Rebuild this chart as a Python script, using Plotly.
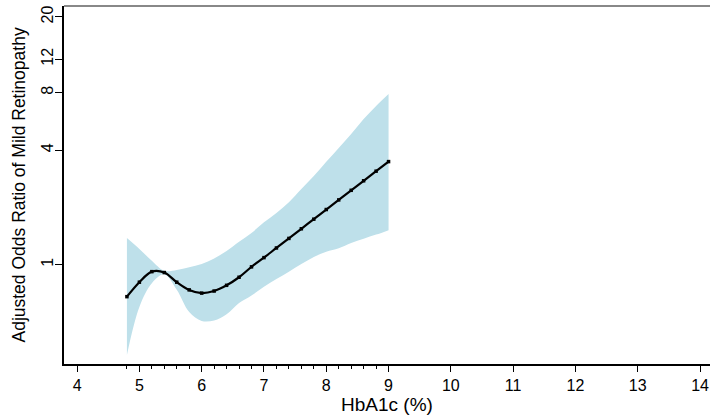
"""
HbA1c vs adjusted odds ratio of mild retinopathy (restricted cubic spline plot).
"""
import plotly.graph_objects as go

FONT = "Liberation Sans, Arial, sans-serif"
BAND_COLOR = "rgb(190,224,234)"

# HbA1c knots (%)
hba1c = [4.8, 5.0, 5.2, 5.4, 5.6, 5.8, 6.0, 6.2, 6.4, 6.6, 6.8,
         7.0, 7.2, 7.4, 7.6, 7.8, 8.0, 8.2, 8.4, 8.6, 8.8, 9.0]

# adjusted odds ratio + 95% CI
odds_ratio = [0.68, 0.81, 0.92, 0.91, 0.81, 0.738, 0.71, 0.728, 0.78, 0.86, 0.975,
              1.09, 1.225, 1.375, 1.545, 1.735, 1.95, 2.19, 2.46, 2.76, 3.10, 3.48]
ci_upper = [1.38, 1.21, 1.05, 0.93, 0.94, 0.97, 1.01, 1.08, 1.18, 1.32, 1.47,
            1.67, 1.87, 2.13, 2.50, 2.92, 3.47, 4.10, 4.86, 5.82, 6.82, 7.88]
ci_lower = [0.336, 0.60, 0.80, 0.89, 0.74, 0.565, 0.507, 0.51, 0.55, 0.63, 0.69,
            0.766, 0.842, 0.92, 1.01, 1.10, 1.17, 1.22, 1.30, 1.37, 1.44, 1.52]

x_ticks = list(range(4, 15))
y_ticks = [1, 4, 8, 12, 20]
minor_x = [v for v in hba1c if v != int(v)]

fig = go.Figure()

fig.add_trace(go.Scatter(
    x=hba1c, y=ci_lower, mode="lines",
    line={"width": 0, "shape": "spline", "color": BAND_COLOR},
    hoverinfo="skip", showlegend=False,
))
fig.add_trace(go.Scatter(
    x=hba1c, y=ci_upper, mode="lines", fill="tonexty", fillcolor=BAND_COLOR,
    line={"width": 0, "shape": "spline", "color": BAND_COLOR},
    hoverinfo="skip", showlegend=False,
))
fig.add_trace(go.Scatter(
    x=hba1c, y=odds_ratio, mode="lines+markers",
    line={"color": "black", "width": 2.2, "shape": "spline"},
    marker={"symbol": "square", "size": 3.5, "color": "black"},
    showlegend=False,
))

fig.update_xaxes(
    range=[3.79, 14.16],
    tickvals=x_ticks,
    automargin=False,
    ticklabeloverflow="allow",
    ticks="outside", ticklen=6, tickwidth=1.2, tickcolor="black",
    showline=True, linecolor="black", linewidth=1.5,
    showgrid=False, zeroline=False,
    minor={"tickvals": minor_x, "ticks": "outside", "ticklen": 3,
           "tickcolor": "black", "tickwidth": 1},
    tickfont={"family": FONT, "size": 16, "color": "black"},
)
fig.update_yaxes(
    type="log",
    range=[-0.521, 1.3585],
    tickvals=y_ticks,
    ticktext=[str(v) for v in y_ticks],
    tickangle=-90,
    automargin=False,
    ticklabeloverflow="allow",
    ticklabelstandoff=-4,
    ticks="outside", ticklen=7, tickwidth=1.2, tickcolor="black",
    showline=True, linecolor="black", linewidth=1.5,
    showgrid=False, zeroline=False,
    tickfont={"family": FONT, "size": 16, "color": "black"},
)

# axis titles placed by hand
fig.add_annotation(text="HbA1c (%)", xref="paper", yref="paper", x=0.5, y=-0.113,
                   xanchor="center", yanchor="middle", showarrow=False,
                   font={"family": FONT, "size": 19, "color": "black"})
fig.add_annotation(text="Adjusted Odds Ratio of Mild Retinopathy",
                   xref="paper", yref="paper", x=-0.0704, y=0.5,
                   xanchor="center", yanchor="middle", textangle=-90,
                   showarrow=False,
                   font={"family": FONT, "size": 17.5, "color": "black"})

# grey frame line along the top
fig.add_shape(type="line", xref="paper", yref="paper", x0=0, x1=1, y0=1, y1=1,
              line={"color": "#888888", "width": 2})

fig.update_layout(
    width=710, height=417,
    template="plotly_white",
    plot_bgcolor="white", paper_bgcolor="white",
    margin={"l": 64, "r": 0, "t": 6, "b": 53},
    font={"family": FONT},
)

# drop the default 8px body margin so the figure fills the window
fig.write_html("out.html", config={"displayModeBar": False},
               post_script="document.body.style.margin='0px';")
